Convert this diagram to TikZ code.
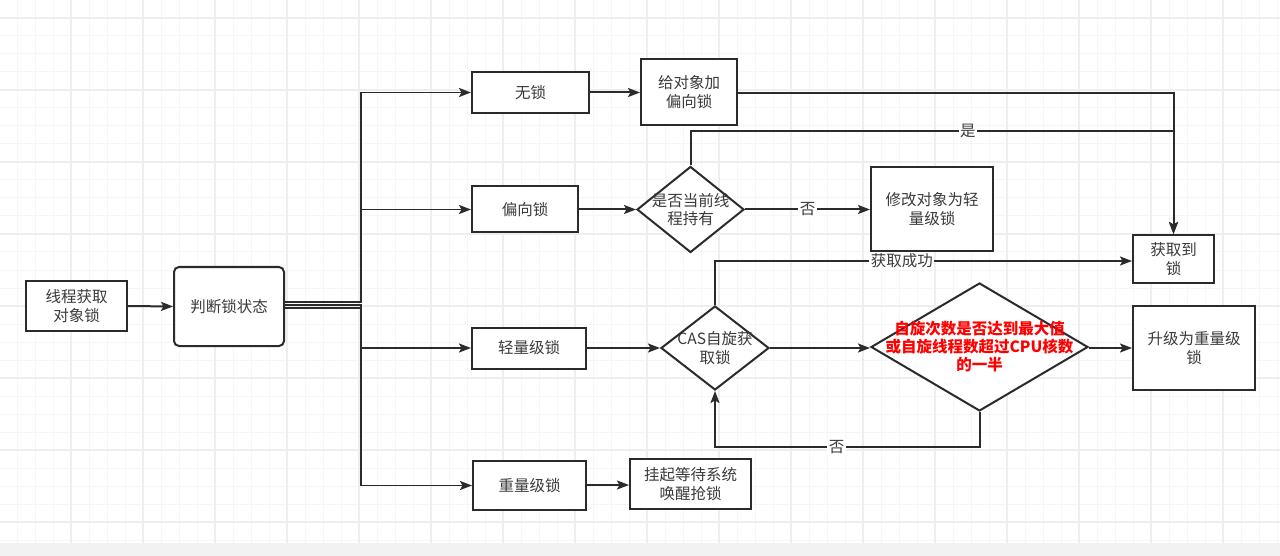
\documentclass[tikz,border=0pt]{standalone}
\usepackage{fontspec}
\setmainfont{Noto Sans CJK SC}
\usetikzlibrary{arrows.meta,shapes.geometric,calc}
\definecolor{ln}{HTML}{2B2B2B}
\definecolor{tx}{HTML}{3A3A3A}
\definecolor{gmin}{HTML}{F6F6F6}
\definecolor{gmaj}{HTML}{EEEEEE}
\definecolor{strip}{HTML}{F2F2F2}
\tikzset{
  box/.style={draw=ln, line width=2pt, rectangle, inner sep=0pt, fill=white},
  rbox/.style={box, rounded corners=5pt},
  dia/.style={draw=ln, line width=2pt, diamond, inner sep=0pt, fill=white},
  txt/.style={text=tx, align=center, font=\fontsize{15.5}{18.5}\selectfont},
  redtxt/.style={text=red, align=center, font=\bfseries\fontsize{15.5}{18}\selectfont},
  arr/.style={draw=ln, line width=2pt, -{Stealth[length=12pt,width=9pt,inset=2.5pt]}},
  busarr/.style={arr, line width=1.8pt},
  lbl/.style={fill=white, inner sep=1.5pt, text=tx, font=\fontsize{15.5}{18}\selectfont},
}
\begin{document}
\begin{tikzpicture}[x=1pt,y=-1pt]
\useasboundingbox (0,0) rectangle (1280,556);
\fill[white] (0,0) rectangle (1280,556);
% grid
\foreach \x in {17,35,...,1280} \draw[gmin, line width=1pt] (\x,0) -- (\x,543);
\foreach \y in {0,18,...,540} \draw[gmin, line width=1pt] (0,\y) -- (1280,\y);
\foreach \x in {71,143,...,1280} \draw[gmaj, line width=1.2pt] (\x,0) -- (\x,543);
\foreach \y in {18,90,...,540} \draw[gmaj, line width=1.2pt] (0,\y) -- (1280,\y);
\fill[strip] (0,543) rectangle (1280,556);

% nodes
\node[box, minimum width=101pt, minimum height=50pt] (n0) at (76.5,306) {};
\node[txt] at (n0) {线程获取\\对象锁};
\node[rbox, minimum width=110pt, minimum height=79pt] (judge) at (229,306.5) {};
\node[txt] at (judge) {判断锁状态};
\node[box, minimum width=117pt, minimum height=41pt] (wu) at (530.5,92.5) {};
\node[txt] at (wu) {无锁};
\node[box, minimum width=106pt, minimum height=46pt] (pian) at (525,209.5) {};
\node[txt] at (pian) {偏向锁};
\node[box, minimum width=114pt, minimum height=41pt] (qing) at (529,348) {};
\node[txt] at (qing) {轻量级锁};
\node[box, minimum width=113pt, minimum height=49pt] (zhong) at (529.5,485.5) {};
\node[txt] at (zhong) {重量级锁};
\node[box, minimum width=121pt, minimum height=50pt] (gua) at (690.5,484) {};
\node[txt] at (gua) {挂起等待系统\\唤醒抢锁};
\node[box, minimum width=96pt, minimum height=66pt] (gei) at (689,92) {};
\node[txt] at (gei) {给对象加\\偏向锁};
\node[dia, minimum width=107pt, minimum height=86pt] (d1) at (690.5,209.5) {};
\node[txt] at (d1) {是否当前线\\程持有};
\node[box, minimum width=122pt, minimum height=84pt] (xiu) at (932,209) {};
\node[txt] at (xiu) {修改对象为轻\\量级锁};
\node[box, minimum width=81pt, minimum height=48pt] (huo) at (1173.5,259) {};
\node[txt] at (huo) {获取到\\锁};
\node[dia, minimum width=108pt, minimum height=84pt] (cas) at (715,348) {};
\node[txt] at (cas) {CAS自旋获\\取锁};
\node[dia, minimum width=217pt, minimum height=128pt] (big) at (979.5,347) {};
\node[redtxt] at (big) {自旋次数是否达到最大值\\或自旋线程数超过CPU核数\\的一半};
\node[box, minimum width=122pt, minimum height=84pt] (sheng) at (1194,348) {};
\node[txt] at (sheng) {升级为重量级\\锁};

\coordinate (bus) at (361,306);

% edges
\draw[arr] (n0.east) -- (judge.west);
\draw[busarr] (judge.east |- 0,302) -- (bus |- 0,302) |- (wu.west);
\draw[busarr] (judge.east |- 0,302) -- (bus |- 0,302) |- (pian.west);
\draw[busarr] (judge.east |- 0,305) -- (bus |- 0,305) |- (qing.west);
\draw[busarr] (judge.east |- 0,308) -- (bus |- 0,308) |- (zhong.west);
\draw[arr] (wu.east) -- (wu.east -| gei.west);
\draw[arr] (gei.east |- 0,93) -| (huo.north);
\draw[arr] (pian.east) -- (d1.west);
\draw[arr] (d1.north) |- node[lbl, pos=0.787] {是} (huo.north |- 0,131) -- (huo.north);
\draw[arr] (d1.east) -- node[lbl, pos=0.5] {否} (d1.east -| xiu.west);
\draw[arr] (qing.east) -- (cas.west);
\draw[arr] (cas.north) |- node[lbl, pos=0.724] {获取成功} (huo.west |- 0,261);
\draw[arr] (cas.east) -- (big.west |- cas.east);
\draw[arr] (big.east |- sheng.west) -- (sheng.west);
\draw[arr] (big.south) -- (big.south |- 0,447) -| node[lbl, pos=0.27] {否} (cas.south);
\draw[arr] (zhong.east |- 0,485) -- (gua.west |- 0,485);
\end{tikzpicture}
\end{document}
